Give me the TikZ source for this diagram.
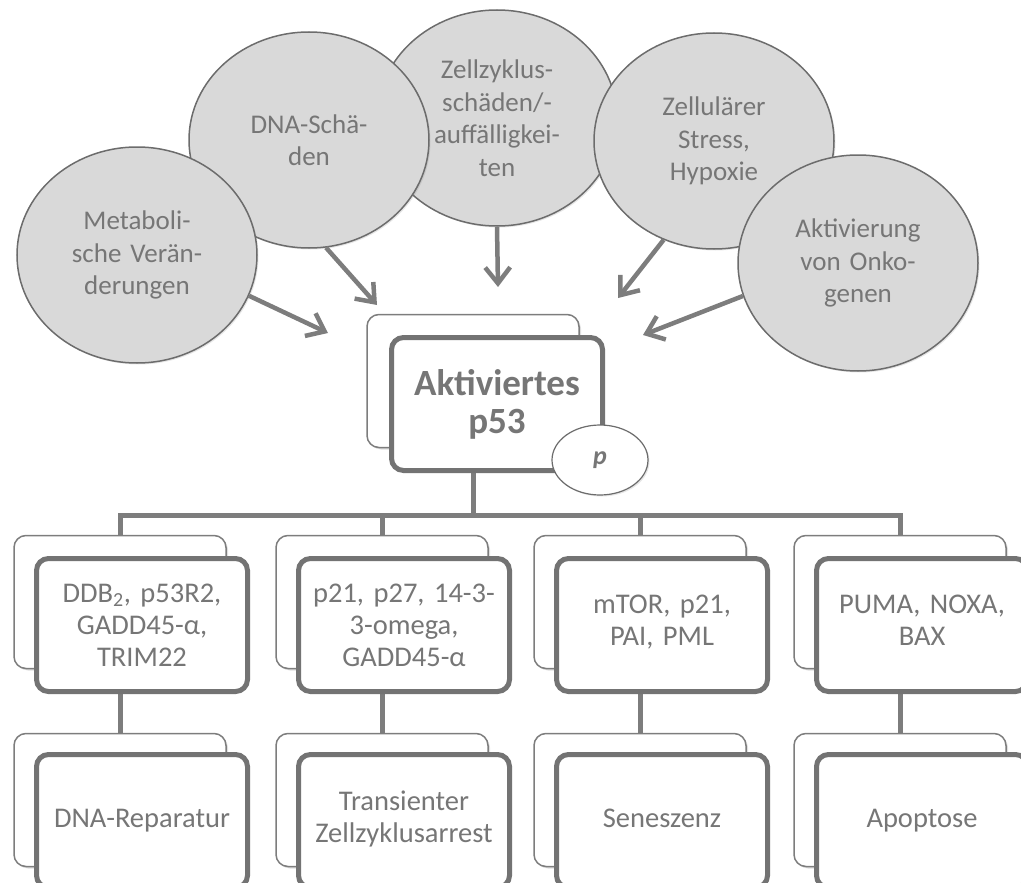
\documentclass[tikz,border=0pt]{standalone}
\usepackage{fontspec}
\setmainfont{Carlito}[WordSpace=0.75]
\usetikzlibrary{arrows.meta,shapes.geometric,shadows}
\definecolor{ellfill}{RGB}{217,217,217}
\definecolor{ellline}{RGB}{108,108,108}
\definecolor{txtgray}{RGB}{118,118,118}
\definecolor{linegray}{RGB}{125,125,125}
\definecolor{boxline}{RGB}{115,115,115}
\begin{document}
\begin{tikzpicture}[x=1pt,y=-1pt]
\tikzstyle{cause} = [ellipse,draw=ellline,line width=1.5pt,fill=ellfill,minimum width=240pt,minimum height=216pt,inner sep=0pt,text width=160pt,align=center,text=txtgray,font=\fontsize{27}{32.5}\selectfont,drop shadow={opacity=0.2,shadow xshift=1.5pt,shadow yshift=-1.5pt}]
\tikzstyle{backbox} = [rectangle,rounded corners=12pt,draw=linegray,line width=1.5pt,fill=white,minimum width=212pt,minimum height=133pt,drop shadow={opacity=0.25,shadow xshift=2pt,shadow yshift=-2pt}]
\tikzstyle{frontbox} = [rectangle,rounded corners=12pt,draw=boxline,line width=5pt,fill=white,minimum width=211pt,minimum height=133pt,inner sep=0pt,text width=200pt,align=center,text=txtgray,font=\fontsize{28.5}{32}\selectfont]
\tikzstyle{link} = [draw=linegray,line width=5pt]
\tikzstyle{arr} = [draw=linegray,line width=4.5pt,-{Straight Barb[length=16pt,width=25pt]}]
\useasboundingbox (0,0) rectangle (1021,883);
\clip (0,0) rectangle (1021,883);
% causes
\node[cause] (zyk) at (497,118) {Zellzyklus-\\schäden/-\\auffälligkei-\\ten};
\node[cause] (dna) at (309,140) {DNA-Schä-\\den\\[36pt]};
\node[cause] (stress) at (714,141) {Zellulärer\\Stress,\\Hypoxie};
\node[cause] (meta) at (137,255) {Metaboli-\\sche Verän-\\derungen};
\node[cause] (onko) at (858,263) {Aktivierung\\von Onko-\\genen};
\coordinate (t1) at (328,333);
\coordinate (t2) at (377,305);
\coordinate (t3) at (498,287);
\coordinate (t4) at (618,298);
\coordinate (t5) at (643,335);
\draw[arr] (meta.-20) -- (t1);
\draw[arr] (dna.-81) -- (t2);
\draw[arr] (zyk.south) -- (t3);
\draw[arr] (stress.-117) -- (t4);
\draw[arr] (onko.-164) -- (t5);
% p53
\node[backbox] (p53b) at (473,381) {};
\node[backbox] (gb1) at (120,602) {};
\node[backbox] (gb2) at (382,602) {};
\node[backbox] (gb3) at (640,602) {};
\node[backbox] (gb4) at (900,602) {};
\node[backbox] (ob1) at (120,800) {};
\node[backbox] (ob2) at (382,800) {};
\node[backbox] (ob3) at (640,800) {};
\node[backbox] (ob4) at (900,800) {};
\coordinate (bus) at (473,515);
\draw[link] (p53b) -- (bus);
\draw[link] (bus) -| (gb1);
\draw[link] (bus) -| (gb2);
\draw[link] (bus) -| (gb3);
\draw[link] (bus) -| (gb4);
\draw[link] (gb1) -- (ob1);
\draw[link] (gb2) -- (ob2);
\draw[link] (gb3) -- (ob3);
\draw[link] (gb4) -- (ob4);
\node[frontbox,font=\bfseries\fontsize{37}{38}\selectfont] (p53) at (497,404) {Aktiviertes\\p53};
\node[ellipse,draw=ellline,line width=1.2pt,fill=white,minimum width=96pt,minimum height=70pt,inner sep=0pt,text=txtgray,font=\bfseries\itshape\fontsize{26}{28}\selectfont,drop shadow={opacity=0.2,shadow xshift=1.5pt,shadow yshift=-1.5pt}] (phos) at (600,460) {p};
% targets
\node[frontbox] (gene1) at (142,625) {DDB\textsubscript{2}, p53R2,\\GADD45-α,\\TRIM22};
\node[frontbox] (gene2) at (404,625) {p21, p27, 14-3-\\3-omega,\\GADD45-α};
\node[frontbox] (gene3) at (662,625) {mTOR, p21,\\PAI, PML\strut};
\node[frontbox] (gene4) at (922,625) {PUMA, NOXA,\\BAX\strut};
\node[frontbox] (out1) at (142,821) {DNA-Reparatur\strut};
\node[frontbox] (out2) at (404,821) {Transienter\\Zellzyklusarrest\strut};
\node[frontbox] (out3) at (662,821) {Seneszenz\strut};
\node[frontbox] (out4) at (922,821) {Apoptose\strut};
\end{tikzpicture}
\end{document}
